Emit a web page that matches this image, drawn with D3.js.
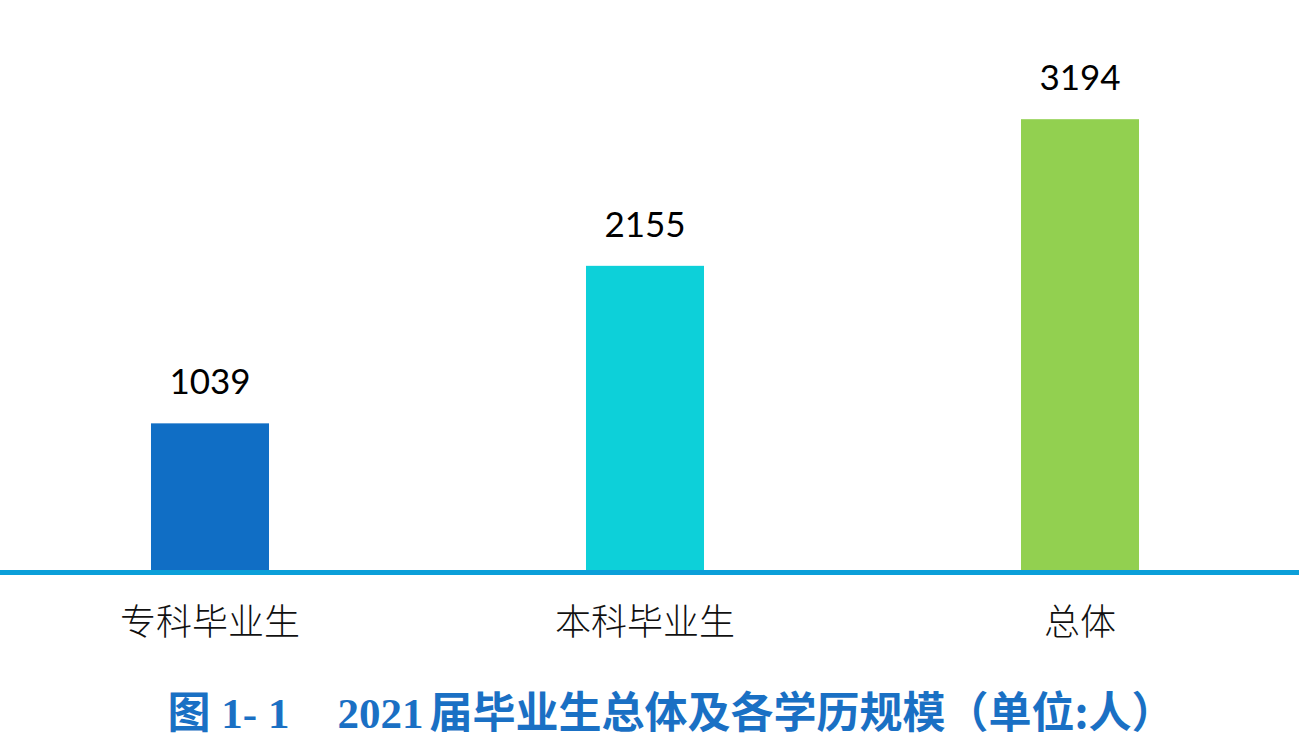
<!DOCTYPE html>
<html>
<head>
<meta charset="utf-8">
<script src="https://cdn.jsdelivr.net/npm/d3@7/dist/d3.min.js"></script>
<style>
  html, body { margin: 0; padding: 0; background: #ffffff; }
  svg { display: block; }
</style>
</head>
<body>
<svg id="chart" width="1299" height="742"></svg>
<script>
const categories = ["专科毕业生", "本科毕业生", "总体"];
const values = [1039, 2155, 3194];
const barColors = ["#106ec5", "#0dd0d9", "#92d050"];
const titleText = ["图 1- 1", "2021", "届毕业生总体及各学历规模（单位:人）"];

const svg = d3.select("#chart");
const W = 1299, H = 742;

const x = d3.scaleBand()
  .domain(categories)
  .range([-166, 1456])
  .paddingInner(0.7287)
  .paddingOuter(0.7287);

const y = d3.scaleLinear()
  .domain([0, 3500])
  .range([570, 76]);

// bars
svg.append("g").selectAll("rect")
  .data(values)
  .join("rect")
  .attr("x", (d, i) => x(categories[i]))
  .attr("width", x.bandwidth())
  .attr("y", d => y(d))
  .attr("height", d => y(0) - y(d))
  .attr("fill", (d, i) => barColors[i]);

// value labels
svg.append("g").selectAll("text")
  .data(values)
  .join("text")
  .attr("x", (d, i) => x(categories[i]) + x.bandwidth() / 2)
  .attr("y", d => y(d) - 29)
  .attr("text-anchor", "middle")
  .attr("font-family", "Lato, 'Open Sans', sans-serif")
  .attr("font-size", 35)
  .attr("fill", "#000000")
  .text(d => d);

// baseline axis
const axis = d3.axisBottom(x).tickSize(0).tickPadding(0);
const gAxis = svg.append("g").attr("transform", `translate(0,${y(0)})`).call(axis);
gAxis.select(".domain").remove();
gAxis.insert("line", ":first-child")
  .attr("x1", 0).attr("x2", W)
  .attr("y1", 2.5).attr("y2", 2.5)
  .attr("stroke", "#0b9fd9")
  .attr("stroke-width", 5);
gAxis.selectAll(".tick text")
  .attr("y", 49)
  .attr("dy", "0")
  .attr("dominant-baseline", "central")
  .attr("font-family", "'Noto Sans CJK SC', sans-serif")
  .attr("font-weight", 300)
  .attr("font-size", 36)
  .attr("fill", "#111111");

// title
const title = svg.append("text")
  .attr("x", 671)
  .attr("y", 728)
  .attr("text-anchor", "middle")
  .attr("fill", "#1a70c4")
  .attr("font-weight", "bold")
  .attr("font-size", 43);
title.append("tspan").attr("font-family", "'Liberation Serif', 'Noto Sans CJK SC', serif").text(titleText[0]);
title.append("tspan").attr("font-family", "'Liberation Serif', serif").attr("dx", 48).text(titleText[1]);
title.append("tspan").attr("font-family", "'Noto Sans CJK SC', sans-serif").attr("dx", 6).text(titleText[2]);
</script>
</body>
</html>
